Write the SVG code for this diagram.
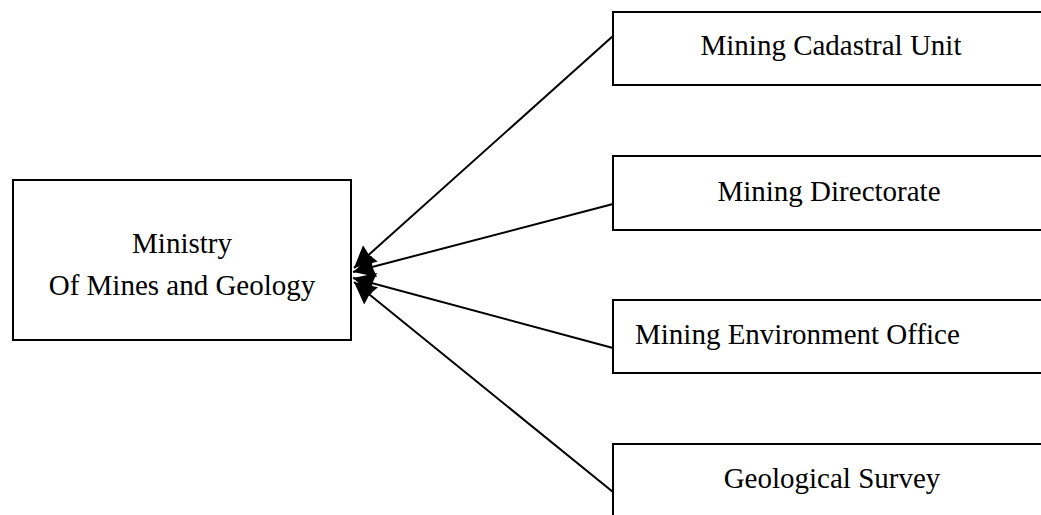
<svg xmlns="http://www.w3.org/2000/svg" width="1041" height="515" viewBox="0 0 1041 515">
<defs>
<marker id="arr" markerUnits="userSpaceOnUse" markerWidth="24" markerHeight="26" refX="22" refY="13" orient="auto">
<path d="M0,2 L22,13 L0,24 L2,13 Z" fill="#000"/>
</marker>
<style>
.box{fill:#fff;stroke:#000;stroke-width:2}
.t{font-size:29px;fill:#000}
.c{stroke:#000;stroke-width:2;fill:none;marker-end:url(#arr)}
</style>
</defs>
<rect width="1041" height="515" fill="#fff"/>
<g id="ministry">
<rect class="box" x="13" y="180" width="338" height="160"/>
<text class="t" font-family="Liberation Serif, serif" x="182" y="253" text-anchor="middle">Ministry</text>
<text class="t" font-family="Liberation Serif, serif" x="182" y="295" text-anchor="middle">Of Mines and Geology</text>
</g>
<g id="cadastral">
<rect class="box" x="613" y="12" width="440" height="73"/>
<text class="t" font-family="Liberation Serif, serif" x="831" y="55" text-anchor="middle">Mining Cadastral Unit</text>
</g>
<g id="directorate">
<rect class="box" x="613" y="156" width="440" height="74"/>
<text class="t" font-family="Liberation Serif, serif" x="829" y="201" text-anchor="middle">Mining Directorate</text>
</g>
<g id="environment">
<rect class="box" x="613" y="300" width="440" height="73"/>
<text class="t" font-family="Liberation Serif, serif" x="635" y="344">Mining Environment Office</text>
</g>
<g id="survey">
<rect class="box" x="613" y="444" width="440" height="80"/>
<text class="t" font-family="Liberation Serif, serif" x="832" y="488" text-anchor="middle">Geological Survey</text>
</g>
<g id="connectors">
<line class="c" x1="613" y1="36" x2="354" y2="268"/>
<line class="c" x1="613" y1="204" x2="353" y2="272"/>
<line class="c" x1="613" y1="348" x2="353" y2="278"/>
<line class="c" x1="613" y1="492" x2="354" y2="282"/>
</g>
</svg>
